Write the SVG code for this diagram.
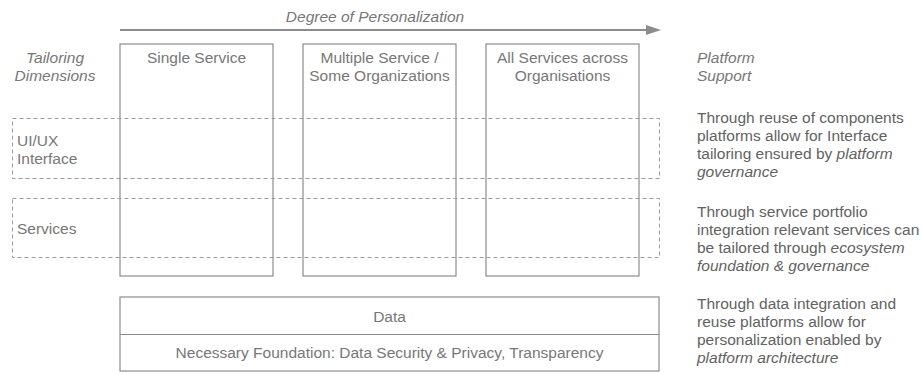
<svg xmlns="http://www.w3.org/2000/svg" width="922" height="374" viewBox="0 0 922 374">
  <style>
    text { font-family: "Liberation Sans", Arial, sans-serif; font-size: 15.5px; fill: #777777; }
    .it { font-style: italic; }
    .mid { text-anchor: middle; }
    .note { fill: #626262; }
    .box { fill: none; stroke: #8c8c8c; stroke-width: 1.2; }
    .dash { fill: none; stroke: #9a9a9a; stroke-width: 1; stroke-dasharray: 4 3; }
    .axis { stroke: #8c8c8c; stroke-width: 2.2; fill: none; }
  </style>
  <defs>
    <marker id="head" viewBox="0 0 15 10" refX="9" refY="5" markerWidth="15" markerHeight="10" markerUnits="userSpaceOnUse" orient="auto">
      <path d="M0,0 L15,5 L0,10 z" fill="#8c8c8c"/>
    </marker>
  </defs>

  <!-- axis: degree of personalization -->
  <g id="connectors">
    <line class="axis" x1="120" y1="30" x2="655" y2="30" marker-end="url(#head)"/>
  </g>
  <text class="it mid" x="375" y="22">Degree of Personalization</text>

  <!-- row headings -->
  <g id="heading-dimensions">
    <text class="it mid" x="55" y="63">Tailoring</text>
    <text class="it mid" x="55" y="81">Dimensions</text>
  </g>
  <g id="heading-support">
    <text class="it" x="697" y="63">Platform</text>
    <text class="it" x="697" y="81">Support</text>
  </g>

  <!-- columns -->
  <g id="col-single">
    <rect class="box" x="120" y="44" width="153" height="232"/>
    <text class="mid" x="196.5" y="63">Single Service</text>
  </g>
  <g id="col-multiple">
    <rect class="box" x="303" y="44" width="153" height="232"/>
    <text class="mid" x="379.5" y="63">Multiple Service /</text>
    <text class="mid" x="379.5" y="81">Some Organizations</text>
  </g>
  <g id="col-all">
    <rect class="box" x="486" y="44" width="153" height="232"/>
    <text class="mid" x="562.5" y="63">All Services across</text>
    <text class="mid" x="562.5" y="81">Organisations</text>
  </g>

  <!-- tailoring dimension bands -->
  <g id="band-ui">
    <rect class="dash" x="12.5" y="118.5" width="647" height="60"/>
    <text x="17" y="146">UI/UX</text>
    <text x="17" y="164">Interface</text>
  </g>
  <g id="band-services">
    <rect class="dash" x="12.5" y="198.5" width="647" height="59"/>
    <text x="17" y="234">Services</text>
  </g>

  <!-- data foundation -->
  <g id="data">
    <rect class="box" x="120" y="297" width="539" height="74"/>
    <line class="box" x1="120" y1="334.5" x2="659" y2="334.5"/>
    <text class="mid" x="389.5" y="321.5">Data</text>
    <text class="mid" x="389.5" y="358">Necessary Foundation: Data Security &amp; Privacy, Transparency</text>
  </g>

  <!-- platform support notes -->
  <g id="note-ui">
    <text class="note" x="697" y="123">Through reuse of components</text>
    <text class="note" x="697" y="141">platforms allow for Interface</text>
    <text class="note" x="697" y="159">tailoring ensured by <tspan class="it">platform</tspan></text>
    <text class="note it" x="697" y="177">governance</text>
  </g>
  <g id="note-services">
    <text class="note" x="697" y="217">Through service portfolio</text>
    <text class="note" x="697" y="235">integration relevant services can</text>
    <text class="note" x="697" y="253">be tailored through <tspan class="it">ecosystem</tspan></text>
    <text class="note it" x="697" y="271">foundation &amp; governance</text>
  </g>
  <g id="note-data">
    <text class="note" x="697" y="309">Through data integration and</text>
    <text class="note" x="697" y="327">reuse platforms allow for</text>
    <text class="note" x="697" y="345">personalization enabled by</text>
    <text class="note it" x="697" y="363">platform architecture</text>
  </g>
</svg>
